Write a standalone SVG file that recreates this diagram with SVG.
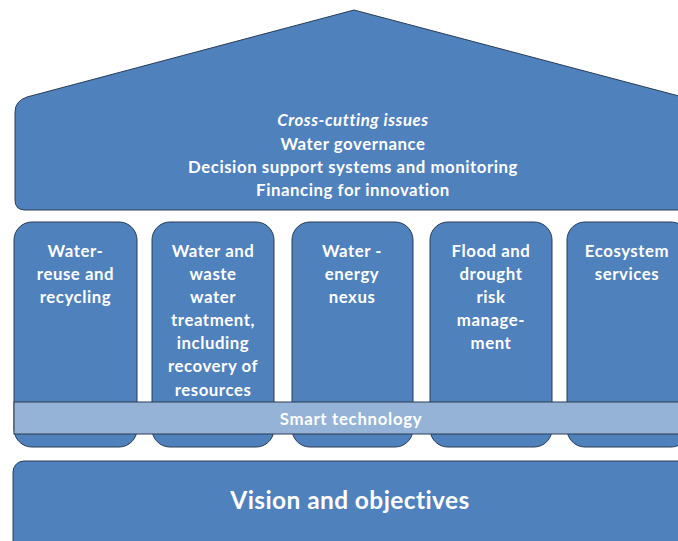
<svg xmlns="http://www.w3.org/2000/svg" width="678" height="541" viewBox="0 0 678 541">
<style>
.blk{fill:#4f81bd;stroke:#2a3d55;stroke-width:1}
.band{fill:#95b3d7;stroke:#2a3d55;stroke-width:1}
text{font-family:Lato,"Open Sans","Liberation Sans",sans-serif;font-weight:bold;fill:#ffffff;text-anchor:middle}
.t{font-size:16.8px;letter-spacing:0.55px}
</style>
<rect width="678" height="541" fill="#ffffff"/>
<g id="roof">
<path class="blk" d="M354,10 L694,100 L694,200 Q694,210 684,210 L25,210 Q15,210 15,200 L15,112 Q15,101 27,97 Z"/>
<text class="t" x="353" y="126" font-style="italic">Cross-cutting issues</text>
<text class="t" x="353" y="150">Water governance</text>
<text class="t" x="353" y="173">Decision support systems and monitoring</text>
<text class="t" x="353" y="196">Financing for innovation</text>
</g>
<g id="pillar1">
<rect class="blk" x="14" y="222" width="123" height="225" rx="18"/>
<text class="t" x="75.5" y="257">Water-</text>
<text class="t" x="75.5" y="280">reuse and</text>
<text class="t" x="75.5" y="303">recycling</text>
</g>
<g id="pillar2">
<rect class="blk" x="152" y="222" width="122" height="225" rx="18"/>
<text class="t" x="213" y="257">Water and</text>
<text class="t" x="213" y="280">waste</text>
<text class="t" x="213" y="303">water</text>
<text class="t" x="213" y="326">treatment,</text>
<text class="t" x="213" y="349">including</text>
<text class="t" x="213" y="372">recovery of</text>
<text class="t" x="213" y="396">resources</text>
</g>
<g id="pillar3">
<rect class="blk" x="292" y="222" width="121" height="225" rx="18"/>
<text class="t" x="352" y="257">Water -</text>
<text class="t" x="352" y="280">energy</text>
<text class="t" x="352" y="303">nexus</text>
</g>
<g id="pillar4">
<rect class="blk" x="430" y="222" width="122" height="225" rx="18"/>
<text class="t" x="491" y="257">Flood and</text>
<text class="t" x="491" y="280">drought</text>
<text class="t" x="491" y="303">risk</text>
<text class="t" x="491" y="326">manage-</text>
<text class="t" x="491" y="349">ment</text>
</g>
<g id="pillar5">
<rect class="blk" x="567" y="222" width="122" height="225" rx="18"/>
<text class="t" x="627" y="257">Ecosystem</text>
<text class="t" x="627" y="280">services</text>
</g>
<g id="smart-technology">
<rect class="band" x="14" y="402" width="680" height="32"/>
<text x="351" y="424.5" font-size="16.8px" letter-spacing="0.7px">Smart technology</text>
</g>
<g id="vision">
<rect class="blk" x="13" y="461" width="690" height="100" rx="11"/>
<text x="350" y="509" font-size="24.5px" letter-spacing="0.4px">Vision and objectives</text>
</g>
<g id="connectors"/>
</svg>
